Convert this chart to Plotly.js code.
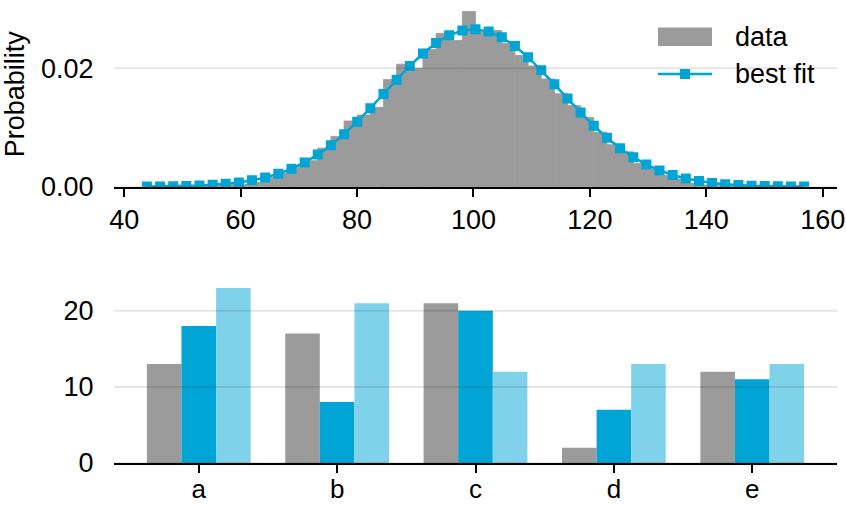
<!DOCTYPE html>
<html>
<head>
<meta charset="utf-8">
<script src="https://cdn.plot.ly/plotly-3.0.1.min.js"></script>
<style>html,body{margin:0;padding:0;background:#fff;}#chart{width:846px;height:506px;}</style>
</head>
<body>
<div id="chart"></div>
<script>
// ---- top panel: histogram bin edges ----
const binEdges = [43.90, 46.16, 48.42, 50.67, 52.93, 55.19, 57.45, 59.71, 61.96, 64.22,
  66.48, 68.74, 71.00, 73.25, 75.51, 77.77, 80.03, 82.29, 84.54, 86.80,
  89.06, 91.32, 93.58, 95.83, 98.09, 100.35, 102.61, 104.87, 107.12, 109.38,
  111.64, 113.90, 116.16, 118.41, 120.67, 122.93, 125.19, 127.45, 129.70, 131.96,
  134.22, 136.48, 138.74, 140.99, 143.25, 145.51, 147.77, 150.03, 152.28, 154.54, 156.80];
// histogram bar heights (probability density), one per bin
const histHeights = [0.00003, 0.00005, 0.0001, 0.00015, 0.0002, 0.0003, 0.0004, 0.0004, 0.0007, 0.0016,
  0.0023, 0.0033, 0.0044, 0.0065, 0.0085, 0.0111, 0.0121, 0.0134, 0.0181, 0.0207,
  0.0200, 0.0232, 0.0259, 0.0247, 0.0296, 0.0262, 0.0264, 0.0242, 0.0222, 0.0204,
  0.0182, 0.0157, 0.0137, 0.0117, 0.0092, 0.0071, 0.0059, 0.0039, 0.0030, 0.0019,
  0.0013, 0.0006, 0.0003, 0.0002, 0.0001, 0.0001, 0.00005, 0.00003, 0.0, 0.00002];
// best-fit curve values at each bin edge
const fitValues = [0.0000244, 0.0000424, 0.000072, 0.000119, 0.000193, 0.000307, 0.000476, 0.000722, 0.001067, 0.001546,
  0.00219, 0.003032, 0.004104, 0.005423, 0.007013, 0.00887, 0.010966, 0.013247, 0.015638, 0.018058,
  0.020386, 0.022495, 0.024269, 0.025588, 0.02638, 0.026589, 0.026196, 0.025232, 0.023761, 0.021873,
  0.019681, 0.017312, 0.014886, 0.012524, 0.010293, 0.008269, 0.006492, 0.004984, 0.003745, 0.002747,
  0.001971, 0.001382, 0.000947, 0.000636, 0.000416, 0.000267, 0.000167, 0.000102, 0.000061, 0.000036, 0.00002];
const topXTicks = [40, 60, 80, 100, 120, 140, 160];
const topYTicks = [0, 0.02];
const legendLabels = ['data', 'best fit'];

// ---- bottom panel: grouped bars ----
const categories = ['a', 'b', 'c', 'd', 'e'];
const series1 = [13, 17, 21, 2, 12];
const series2 = [18, 8, 20, 7, 11];
const series3 = [23, 21, 12, 13, 13];
const bottomYTicks = [0, 10, 20];

const GRAY = '#9b9b9b', BLUE = '#00a5d6', LIGHT = '#80d2ea';
const FONT = 'Liberation Sans, Arial, Helvetica, sans-serif';
const FS = 27;

const binLefts = binEdges.slice(0, -1);
const binWidths = binLefts.map((e, i) => binEdges[i + 1] - e);

const traces = [
  {type: 'bar', name: legendLabels[0], x: binLefts, y: histHeights, width: binWidths, offset: 0,
   marker: {color: GRAY, line: {width: 0.8, color: GRAY}}, xaxis: 'x', yaxis: 'y'},
  {type: 'scatter', mode: 'lines+markers', name: legendLabels[1], x: binEdges, y: fitValues,
   line: {color: BLUE, width: 2.5}, marker: {symbol: 'square', size: 10, color: BLUE},
   xaxis: 'x', yaxis: 'y'},
  {type: 'bar', x: categories, y: series1, marker: {color: GRAY}, xaxis: 'x2', yaxis: 'y2'},
  {type: 'bar', x: categories, y: series2, marker: {color: BLUE}, xaxis: 'x2', yaxis: 'y2'},
  {type: 'bar', x: categories, y: series3, marker: {color: LIGHT}, xaxis: 'x2', yaxis: 'y2'}
];

const shapes = [];
topYTicks.forEach(v => shapes.push({type: 'line', xref: 'x domain', yref: 'y', x0: 0, x1: 1, y0: v, y1: v,
  line: {color: 'rgba(0,0,0,0.1)', width: 2}, layer: 'above'}));
bottomYTicks.forEach(v => shapes.push({type: 'line', xref: 'x2 domain', yref: 'y2', x0: 0, x1: 1, y0: v, y1: v,
  line: {color: 'rgba(0,0,0,0.1)', width: 2}, layer: 'above'}));
// legend keys (drawn as paper-positioned keys)
shapes.push({type: 'rect', xref: 'paper', yref: 'paper', x0: 0.7524, x1: 0.8271, y0: 0.9046, y1: 0.9447,
  fillcolor: GRAY, line: {width: 0}, layer: 'above'});
shapes.push({type: 'line', xref: 'paper', yref: 'paper', x0: 0.7524, x1: 0.8271, y0: 0.8438, y1: 0.8438,
  line: {color: BLUE, width: 2.5}, layer: 'above'});
shapes.push({type: 'rect', xref: 'paper', yref: 'paper', x0: 0.7828, x1: 0.7967, y0: 0.8330, y1: 0.8547,
  fillcolor: BLUE, line: {width: 0}, layer: 'above'});

const annotations = [
  {xref: 'paper', yref: 'paper', x: 0.8562, y: 0.9241, xanchor: 'left', yanchor: 'middle',
   text: legendLabels[0], showarrow: false, font: {size: FS, color: '#000'}},
  {xref: 'paper', yref: 'paper', x: 0.8562, y: 0.8438, xanchor: 'left', yanchor: 'middle',
   text: legendLabels[1], showarrow: false, font: {size: FS, color: '#000'}}
];

const xCommon = {showline: true, linecolor: '#000', linewidth: 2, ticks: 'outside', ticklen: 8, tickwidth: 2,
  tickcolor: '#000', showgrid: false, zeroline: false, tickfont: {size: FS, color: '#000'}, layer: 'above traces'};
const yCommon = {showline: false, showgrid: false, zeroline: false, ticks: 'outside', ticklen: 14,
  tickcolor: 'rgba(0,0,0,0)', tickfont: {size: FS, color: '#000'}};

const layout = {
  width: 846, height: 506,
  margin: {l: 114, r: 9, t: 2, b: 43},
  paper_bgcolor: '#fff', plot_bgcolor: '#fff',
  font: {family: FONT, size: FS, color: '#000'},
  barmode: 'group', bargap: 0.25, bargroupgap: 0,
  showlegend: false,
  xaxis: Object.assign({}, xCommon, {domain: [0, 1], anchor: 'y', range: [38.25, 162.45],
    tickvals: topXTicks}),
  yaxis: Object.assign({}, yCommon, {domain: [0.5994, 1], anchor: 'x', range: [0, 0.0312],
    tickvals: topYTicks, tickformat: '.2f', title: {text: 'Probability', font: {size: FS}, standoff: 8}}),
  xaxis2: Object.assign({}, xCommon, {domain: [0, 1], anchor: 'y2', range: [-0.6125, 4.6125],
    tickfont: {size: 26, color: '#000'}, ticklabelstandoff: -6}),
  yaxis2: Object.assign({}, yCommon, {domain: [0, 0.3987], anchor: 'x2', range: [0, 24.15],
    tickvals: bottomYTicks}),
  shapes: shapes,
  annotations: annotations
};

Plotly.newPlot('chart', traces, layout, {displayModeBar: false, staticPlot: true});
</script>
</body>
</html>
